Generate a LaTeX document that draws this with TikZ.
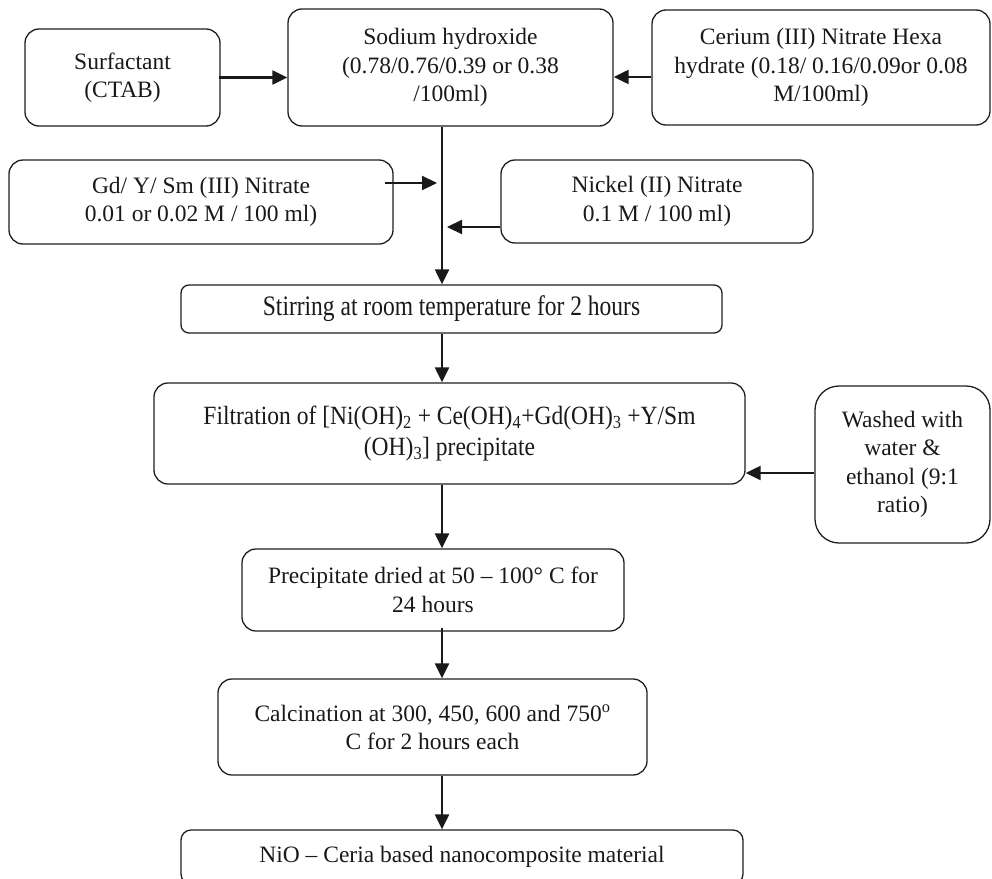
\documentclass[tikz,border=0pt]{standalone}
\usepackage{fontspec}
\usepackage{graphicx}
\setmainfont{Liberation Serif}
\usetikzlibrary{arrows.meta}
\begin{document}
\begin{tikzpicture}[x=1pt,y=-1pt,
  every node/.style={font=\fontsize{23.5}{28.5}\selectfont, text=black!90},
  box/.style={draw=black!88, line width=1.3pt, rounded corners=14pt, align=center, inner sep=0pt},
  arr/.style={draw=black!90, line width=2.2pt, -{Triangle[length=15pt,width=14pt]}}]
\useasboundingbox (0,0) rectangle (992,878);
\clip (0,0) rectangle (992,878);
\coordinate (mx) at (442,0);
% boxes
\node[box, minimum width=195pt, minimum height=97pt] (surf) at (122.5,77.5) {Surfactant\\(CTAB)};
\node[box, minimum width=325pt, minimum height=117pt] (sodium) at (450.5,67.5) {Sodium hydroxide\\(0.78/0.76/0.39 or 0.38\\/100ml)};
\node[box, minimum width=338pt, minimum height=115pt] (cer) at (821,67.5) {Cerium (III) Nitrate Hexa\\hydrate (0.18/ 0.16/0.09or 0.08\\M/100ml)};
\node[box, minimum width=384pt, minimum height=84pt] (gd) at (201,202) {Gd/ Y/ Sm (III) Nitrate\\0.01 or 0.02 M / 100 ml)};
\node[box, minimum width=312pt, minimum height=83pt] (nickel) at (657,201.5) {Nickel (II) Nitrate\\0.1 M / 100 ml)};
\node[box, rounded corners=8pt, minimum width=541pt, minimum height=48pt] (stir) at (451.5,309) {\scalebox{1}[1.2]{Stirring at room temperature for 2 hours}};
\node[box, minimum width=591pt, minimum height=101pt] (filt) at (449.5,433.5) {\scalebox{1}[1.12]{Filtration of [Ni(OH)\textsubscript{2} + Ce(OH)\textsubscript{4}+Gd(OH)\textsubscript{3} +Y/Sm}\\[2pt]\scalebox{1}[1.12]{(OH)\textsubscript{3}] precipitate}};
\node[box, rounded corners=24pt, minimum width=175pt, minimum height=157pt] (wash) at (902.5,464.5) {Washed with\\water \&\\ethanol (9:1\\ratio)};
\node[box, minimum width=382pt, minimum height=82pt] (prec) at (433,590) {Precipitate dried at 50 – 100° C for\\24 hours};
\node[box, minimum width=429pt, minimum height=96pt] (calc) at (432.5,727) {Calcination at 300, 450, 600 and 750\textsuperscript{o}\\C for 2 hours each};
\node[box, rounded corners=10pt, minimum width=562pt, minimum height=54pt] (nio) at (462,857) {NiO – Ceria based nanocomposite material};
% connectors
\draw[arr] ([xshift=-2pt]surf.east) -- (surf.east -| sodium.west);
\draw[arr] ([yshift=-9.5pt]cer.west) -- ([yshift=-9.5pt]cer.west -| sodium.east);
\draw[arr] (sodium.south -| mx) -- (stir.north -| mx);
\coordinate (gda) at (385,183);
\draw[arr, shorten >=5pt] (gda) -- (gda -| mx);
\draw[arr, shorten >=5pt] ([yshift=-25.5pt]nickel.west) -- ([yshift=-25.5pt]nickel.west -| mx);
\draw[arr] (stir.south -| mx) -- (filt.north -| mx);
\draw[arr] ([yshift=-8.5pt]wash.west) -- ([yshift=-8.5pt]wash.west -| filt.east);
\draw[arr] (filt.south -| mx) -- (prec.north -| mx);
\draw[arr] ([yshift=4pt]prec.south -| mx) -- (calc.north -| mx);
\draw[arr] (calc.south -| mx) -- (nio.north -| mx);
\end{tikzpicture}
\end{document}
